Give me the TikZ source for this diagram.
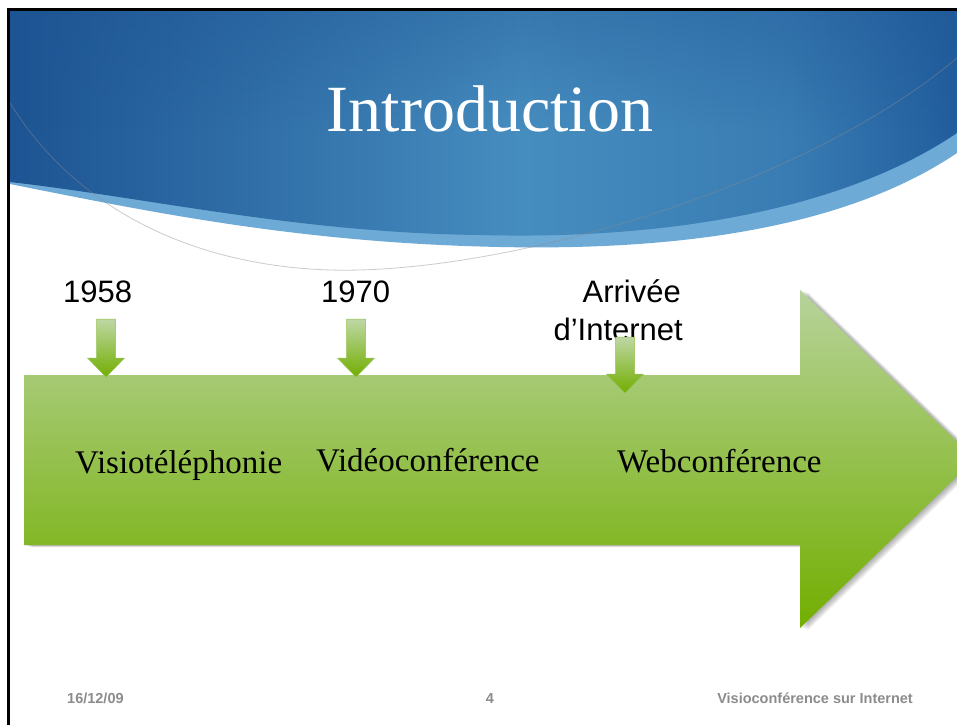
\documentclass[tikz,border=0pt]{standalone}
\usepackage{fontspec}
\setmainfont{Liberation Serif}
\newfontfamily\arialfont{Liberation Sans}
\usepackage{xcolor,tikz}
\usetikzlibrary{arrows,fadings}

\definecolor{headdark}{HTML}{1D5493}
\definecolor{headmid}{HTML}{468DBF}
\definecolor{headright}{HTML}{215D9D}
\definecolor{headband}{HTML}{6EAAD6}
\definecolor{greentop}{HTML}{B7D39B}
\definecolor{greenbot}{HTML}{72AE00}
\definecolor{footgrey}{HTML}{8C8C8C}

% the path box spans 25bp..75bp of the shading
\pgfdeclarehorizontalshading{headshade}{100bp}{color(0bp)=(headdark);
  color(25bp)=(headdark); color(32bp)=(headdark!75!headmid); color(52bp)=(headmid);
  color(66bp)=(headmid!65!headright); color(75bp)=(headright); color(100bp)=(headright)}
\tikzfading[name=fadedown, top color=transparent!0, bottom color=transparent!100]

% small year marker, #1 = centre x, #2 = top, #3 = tip
\newcommand{\yeararrow}[3]{%
  \path[yeardrop] (#1-9.5,#2) -- (#1+9.5,#2) -- (#1+9.5,#3-19)
    -- (#1+18.5,#3-19) -- (#1,#3) -- (#1-18.5,#3-19) -- (#1-9.5,#3-19) -- cycle;}

\begin{document}
\begin{tikzpicture}[x=1pt,y=-1pt,
  yeardrop/.style={top color=greentop!90!white, bottom color=greenbot, draw=greenbot!50!greentop, line width=0.5pt},
  year/.style={font=\arialfont\fontsize{31}{37}\selectfont, inner sep=0pt},
  phase/.style={font=\fontsize{33}{40}\selectfont, anchor=base west, inner sep=0pt},
  foot/.style={font=\arialfont\bfseries\fontsize{14.5}{17}\selectfont, text=footgrey, inner sep=0pt}]
\useasboundingbox (0,0) rectangle (957,725);
\fill[white] (0,0) rectangle (957,725);

% header
\fill[headband] (10,11) -- (957,11) -- (957,153)
  .. controls (850,225) and (690,251) .. (500,247)
  .. controls (300,243) and (150,212) .. (10,184) -- cycle;
\shade[shading=headshade]
  (10,11) -- (957,11) -- (957,133)
  .. controls (840,212) and (660,240) .. (480,235)
  .. controls (300,233) and (150,198) .. (10,182) -- cycle;
\fill[headdark, opacity=0.35, path fading=fadedown] (10,11) rectangle (957,130);
\draw[black!45, opacity=0.45, line width=0.8pt] (10,103)
  .. controls (70,200) and (180,265) .. (330,270)
  .. controls (500,275) and (800,190) .. (957,58);
\node[font=\fontsize{66}{70}\selectfont, text=white, anchor=base, inner sep=0pt] (title) at (490,131) {Introduction};

% frame
\draw[line width=2.4pt] (8.5,725) -- (8.5,9.5) -- (957,9.5);

% timeline arrow
\foreach \s in {1,...,8}
  \fill[black, opacity=0.045, shift={(\s,0.3*\s)}] (24,375) -- (800,375) -- (800,290)
    -- (975,459) -- (800,628) -- (800,545) -- (24,545) -- cycle;
\shade[top color=greentop, bottom color=greenbot] (24,375) -- (800,375) -- (800,290)
  -- (975,459) -- (800,628) -- (800,545) -- (24,545) -- cycle;

\node[phase] (visio) at (75,473) {Visiotéléphonie};
\node[phase] (video) at (316,471) {Vidéoconférence};
\node[phase] (web) at (617,472) {Webconférence};

\node[year, anchor=base west] (y1958) at (63,302) {1958};
\node[year, anchor=base west] (y1970) at (321,302) {1970};
\node[year, anchor=base east] (arrivee) at (681,302) {Arrivée};
\node[year, anchor=base east] (internet) at (683,340) {d’Internet};

\yeararrow{106}{319}{377}
\yeararrow{356}{319}{377}
\yeararrow{625}{337}{393}

% footer
\node[foot, anchor=base west] (date) at (67,703) {16/12/09};
\node[foot, anchor=base] (page) at (490,703) {4};
\node[foot, anchor=base east] (footer) at (913,703) {Visioconférence sur Internet};
\end{tikzpicture}
\end{document}
